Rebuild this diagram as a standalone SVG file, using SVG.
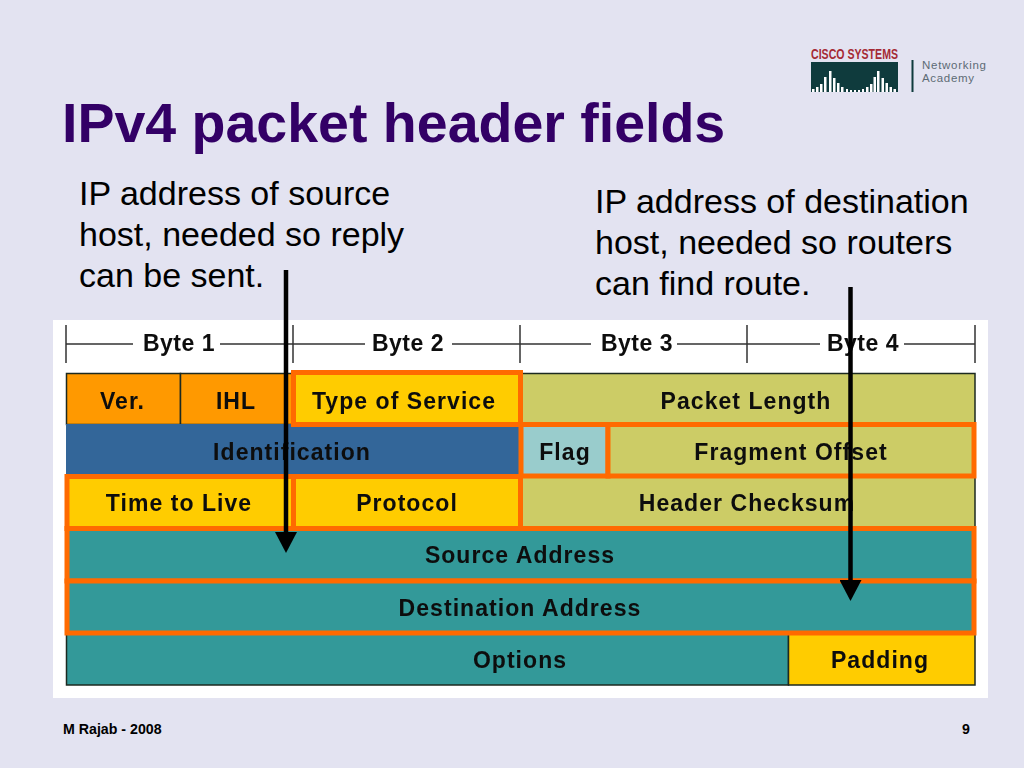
<svg xmlns="http://www.w3.org/2000/svg" width="1024" height="768" viewBox="0 0 1024 768">
<style>
text{font-family:"Liberation Sans",Arial,sans-serif}
.body{font-size:34px;fill:#000}
.f{font-size:23px;font-weight:700;fill:#0c0c0c;text-anchor:middle;letter-spacing:1.050px;filter:url(#soft)}
.hdr{font-size:23px;font-weight:700;fill:#0c0c0c;text-anchor:middle;letter-spacing:.5px;filter:url(#soft)}
.foot{font-size:14.200px;font-weight:700;fill:#000}
.cell{stroke:#1c2a20;stroke-width:1.5}
.hl{fill:none;stroke:#ff6a00;stroke-width:5}
.rule{stroke:#333;stroke-width:1.5;fill:none}
.or{fill:#ff9900}.ye{fill:#ffcc00}.ol{fill:#cccc66}.bl{fill:#336699}.lb{fill:#99cccc}.te{fill:#339999}
.bar{fill:#fff}
</style>
<defs>
<filter id="soft" x="-5%" y="-20%" width="110%" height="140%"><feGaussianBlur stdDeviation="0.450"/></filter>
<marker id="ah" markerUnits="userSpaceOnUse" markerWidth="22" markerHeight="22" refX="0" refY="11" orient="auto"><path d="M0 0L21 11L0 22Z" fill="#000"/></marker>
</defs>
<rect width="1024" height="768" fill="#e3e3f1"/>
<g id="logo">
<text x="811" y="59" font-size="15" font-weight="700" fill="#a52a35" textLength="87" lengthAdjust="spacingAndGlyphs">CISCO SYSTEMS</text>
<rect x="811" y="62" width="87" height="30" fill="#0f3b3d"/>
<path class="bar" d="M812 89h2.500v3h-2.500zM816 87h2.500v5h-2.500zM820 84h2.500v8h-2.500zM824 77h2.500v15h-2.500zM829 71h2.500v21h-2.500zM833 78h2.500v14h-2.500zM837 83h2.500v9h-2.500zM841 87h2.500v5h-2.500zM846 89h2v3h-2zM850 90h2v2h-2zM854 90h2v2h-2zM858 90h2v2h-2zM862 89h2v3h-2zM866 87h2.500v5h-2.500zM870 84h2.500v8h-2.500zM873.500 77h2.500v15h-2.500zM877 71h2.500v21h-2.500zM881.500 78h2.500v14h-2.500zM885.500 83h2.500v9h-2.500zM889.500 87h2.500v5h-2.500zM893.500 89h2.500v3h-2.500z"/>
<rect x="911.500" y="60" width="2" height="32" fill="#0f3b3d"/>
<text x="922" y="69" font-size="11.500" fill="#5d6b75" textLength="64">Networking</text>
<text x="922" y="82" font-size="11.500" fill="#5d6b75" textLength="52">Academy</text>
</g>
<g id="title"><text x="62" y="142" font-size="55.500" font-weight="700" fill="#330066">IPv4 packet header fields</text></g>
<g id="source-note">
<text class="body" x="79" y="205">IP address of source</text>
<text class="body" x="79" y="246">host, needed so reply</text>
<text class="body" x="79" y="287">can be sent.</text>
</g>
<g id="destination-note">
<text class="body" x="595" y="213">IP address of destination</text>
<text class="body" x="595" y="254">host, needed so routers</text>
<text class="body" x="595" y="295">can find route.</text>
</g>
<rect id="panel" x="53" y="320" width="935" height="378" fill="#fff"/>
<g id="byte-ruler">
<path class="rule" d="M66 325v38M293 325v38M520 325v38M747 325v38M975 325v38M66 344h67M220 344h73M293 344h72M452 344h68M520 344h71M677 344h70M747 344h73M904 344h71"/>
<text class="hdr" x="179" y="351">Byte 1</text>
<text class="hdr" x="408" y="351">Byte 2</text>
<text class="hdr" x="637" y="351">Byte 3</text>
<text class="hdr" x="863" y="351">Byte 4</text>
</g>
<g id="ver"><rect class="cell or" x="66.500" y="373.500" width="114" height="51"/><text class="f" x="122.500" y="409">Ver.</text></g>
<g id="ihl"><rect class="cell or" x="180.500" y="373.500" width="113" height="51"/><text class="f" x="236" y="409">IHL</text></g>
<g id="packet-length"><rect class="cell ol" x="521" y="373.500" width="454" height="51"/><text class="f" x="746" y="409">Packet Length</text></g>
<g id="identification"><rect class="bl" x="66" y="424" width="455" height="52"/><text class="f" x="292" y="460">Identification</text></g>
<g id="header-checksum"><rect class="cell ol" x="521" y="476" width="454" height="52"/><text class="f" x="747" y="511">Header Checksum</text></g>
<g id="options"><rect class="cell te" x="66.500" y="633" width="722" height="52"/><text class="f" x="520" y="668">Options</text></g>
<g id="padding"><rect class="cell ye" x="788.500" y="633" width="186.500" height="52"/><text class="f" x="880" y="668">Padding</text></g>
<g id="type-of-service"><rect class="ye" x="293.500" y="372.500" width="227" height="52"/><rect class="hl" x="293.500" y="372.500" width="227" height="52"/><text class="f" x="404" y="409">Type of Service</text></g>
<g id="flag"><rect class="lb" x="521" y="424.500" width="87" height="51.500"/><rect class="hl" x="521" y="424.500" width="87" height="51.500"/><text class="f" x="565" y="460">Flag</text></g>
<g id="fragment-offset"><rect class="ol" x="608" y="424.500" width="366" height="51.500"/><rect class="hl" x="608" y="424.500" width="366" height="51.500"/><text class="f" x="791" y="460">Fragment Offset</text></g>
<g id="time-to-live"><rect class="ye" x="67" y="476.500" width="226.500" height="52"/><rect class="hl" x="67" y="476.500" width="226.500" height="52"/><text class="f" x="179" y="511">Time to Live</text></g>
<g id="protocol"><rect class="ye" x="293.500" y="476.500" width="227" height="52"/><rect class="hl" x="293.500" y="476.500" width="227" height="52"/><text class="f" x="407" y="511">Protocol</text></g>
<g id="source-address"><rect class="te" x="67" y="528.500" width="907" height="52.500"/><rect class="hl" x="67" y="528.500" width="907" height="52.500"/><text class="f" x="520" y="563">Source Address</text></g>
<g id="destination-address"><rect class="te" x="67" y="581" width="907" height="52"/><rect class="hl" x="67" y="581" width="907" height="52"/><text class="f" x="520" y="616">Destination Address</text></g>
<g id="connectors" fill="none" stroke="#000" stroke-width="4.500">
<line x1="286" y1="270" x2="286" y2="532" marker-end="url(#ah)"/>
<line x1="850.500" y1="287" x2="850.500" y2="580" marker-end="url(#ah)"/>
</g>
<g id="footer">
<text class="foot" x="63" y="734">M Rajab - 2008</text>
<text class="foot" x="962" y="734">9</text>
</g>
</svg>
